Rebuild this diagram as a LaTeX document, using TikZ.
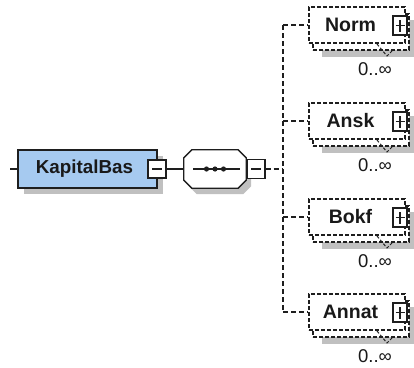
\documentclass[tikz,border=0pt]{standalone}
\usepackage{fontspec}
\setmainfont{Liberation Sans}
\definecolor{kbblue}{RGB}{166,202,240}
\definecolor{shadowc}{RGB}{192,192,192}
\definecolor{edgec}{RGB}{30,30,30}
\newcommand\myoct[3]{([xshift=#2+8pt,yshift=#3]#1.north west) -- ([xshift=#2-8pt,yshift=#3]#1.north east) -- ([xshift=#2,yshift=#3-8pt]#1.north east) -- ([xshift=#2,yshift=#3+8pt]#1.south east) -- ([xshift=#2-8pt,yshift=#3]#1.south east) -- ([xshift=#2+8pt,yshift=#3]#1.south west) -- ([xshift=#2,yshift=#3+8pt]#1.south west) -- ([xshift=#2,yshift=#3-8pt]#1.north west) -- cycle}
\begin{document}
\begin{tikzpicture}[x=1pt,y=-1pt,
  elbox/.style={draw=edgec, line width=1.6pt, fill=kbblue, minimum width=139pt, minimum height=38pt, inner sep=0pt},
  ctrlbox/.style={draw=edgec, fill=white, line width=1.1pt, minimum width=18pt, minimum height=18pt, inner sep=0pt},
  childfront/.style={draw=edgec, fill=white, line width=1.1pt, dash pattern=on 4pt off 2pt, minimum width=96pt, minimum height=36pt, inner sep=0pt},
  childback/.style={childfront},
  nametext/.style={inner sep=0pt, font=\fontsize{19.5}{22}\selectfont\bfseries, text=black!90},
  occ/.style={inner sep=0pt, font=\fontsize{18.5}{21}\selectfont, text=black!90},
  conn/.style={draw=edgec, line width=1.1pt},
  dashconn/.style={draw=edgec, line width=1.2pt, dash pattern=on 5pt off 3pt},
  notch/.style={draw=edgec, line width=1pt, dash pattern=on 3pt off 2pt},
  blank/.style={minimum width=62pt, minimum height=38pt, inner sep=0pt}
]
\useasboundingbox (0,0) rectangle (414,367);
\fill[white] (0,0) rectangle (414,367);

% ---- KapitalBas ----
\fill[shadowc] (24,156) rectangle (163,194);
\node[elbox] (kb) at (87.5,169) {};
\node[nametext, font=\fontsize{18.8}{22}\selectfont\bfseries] (kbt) at (84.5,169) {KapitalBas};
\node[ctrlbox] (kbm) at (157,169) {};
\draw[line width=1.1pt, edgec] ([xshift=-5pt]kbm.center) -- ([xshift=5pt]kbm.center);
\coordinate (start) at (10,169);
\draw[conn] (start) -- (kb.west);

% ---- sequence compositor ----
\node[blank] (seq) at (215,169) {};
\fill[shadowc] \myoct{seq}{5pt}{-6pt};
\draw[edgec, line width=1.3pt, fill=white] \myoct{seq}{0pt}{0pt};
\draw[line width=1.1pt, edgec] ([xshift=-22pt]seq.center) -- ([xshift=25pt]seq.center);
\foreach \dx in {-8.5,0,8.5} \fill[edgec] ([xshift=\dx pt]seq.center) circle (2.6);
\node[ctrlbox, minimum height=19pt] (seqm) at (256,169) {};
\draw[line width=1.1pt, edgec] ([xshift=-5pt]seqm.center) -- ([xshift=5pt]seqm.center);
\draw[conn] (kbm.east) -- (seq.west);
\coordinate (jn) at (283,169);
\draw[dashconn] (seqm.east) -- (jn);

% ---- children ----
\foreach \nm/\ty/\id in {Norm/7/c1, Ansk/103/c2, Bokf/199/c3, Annat/294/c4}{
  \fill[shadowc] (322,\ty+13) rectangle (416,\ty+50);
  \node[childback] (\id b) at (361,\ty+25) {};
  \node[childfront] (\id) at (357,\ty+18) {};
  \node[ctrlbox, minimum width=14pt, minimum height=19pt] (\id p) at (400,\ty+18.5) {};
  \draw[line width=1.1pt, edgec] ([xshift=-4.5pt]\id p.center) -- ([xshift=4.5pt]\id p.center);
  \draw[line width=1.1pt, edgec] ([yshift=-6pt]\id p.center) -- ([yshift=6pt]\id p.center);
  \node[nametext] (\id t) at (350.5,\ty+18) {\nm};
  \node[occ] (\id o) at (375,\ty+62) {0..∞};
  \draw[notch] (377,\ty+37) -- (387,\ty+49) -- (392,\ty+44);
  \draw[dashconn] (jn |- \id.west) -- (\id.west);
}
\draw[dashconn] (jn |- c1.west) -- (jn |- c4.west);
\end{tikzpicture}
\end{document}
